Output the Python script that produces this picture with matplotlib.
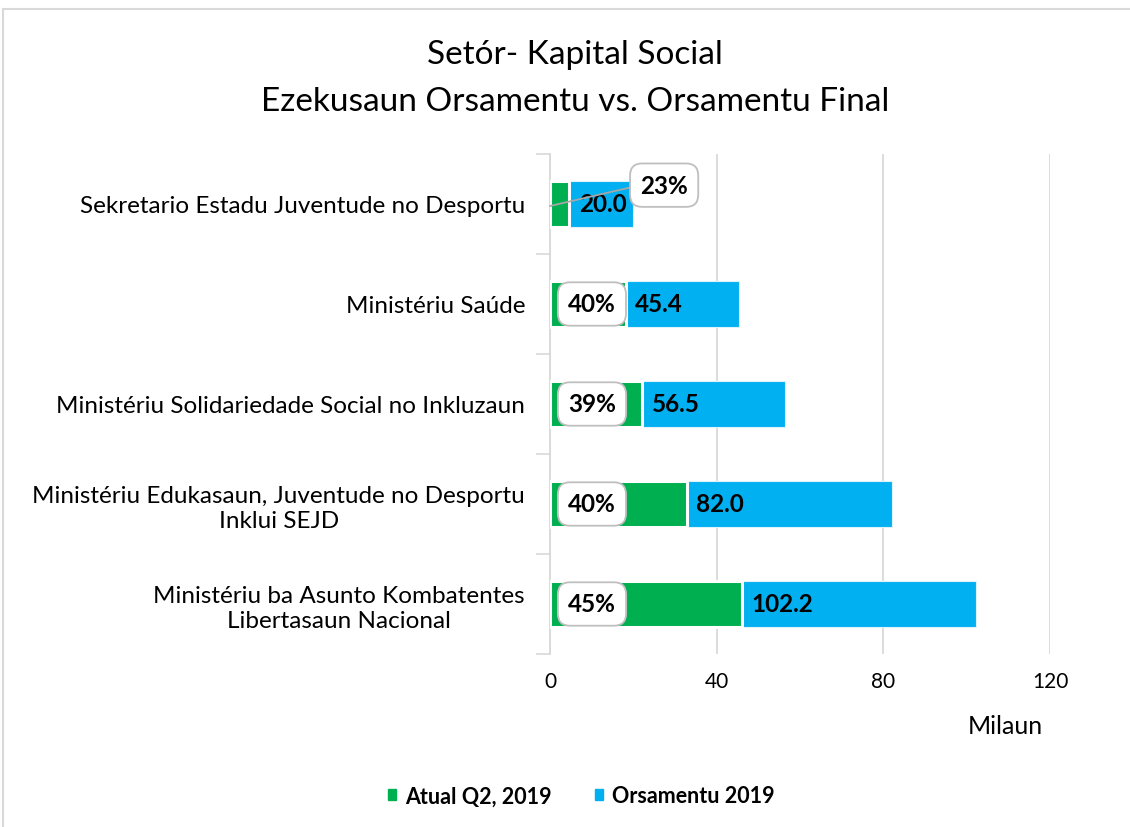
import matplotlib.pyplot as plt
import matplotlib.patches as mpatches
import numpy as np

plt.rcParams['font.family'] = ['Lato', 'DejaVu Sans']

categories = [
    "Sekretario Estadu Juventude no Desportu",
    "Ministériu Saúde",
    "Ministériu Solidariedade Social no Inkluzaun",
    "Ministériu Edukasaun, Juventude no Desportu\nInklui SEJD",
    "Ministériu ba Asunto Kombatentes\nLibertasaun Nacional",
]
orsamentu = [20.0, 45.4, 56.5, 82.0, 102.2]
pct = [23, 40, 39, 40, 45]
atual = [o * p / 100 for o, p in zip(orsamentu, pct)]

green = "#00B050"
blue = "#00B0F0"
grid_c = "#D9D9D9"

W, H = 1130, 828
fig = plt.figure(figsize=(W / 100, H / 100), dpi=100)
ax = fig.add_axes([550 / W, 1 - 655 / H, 500 / W, 500 / H])

y = np.arange(len(categories))[::-1]  # first category at the top

ax.barh(y, orsamentu, height=0.46, color=blue, edgecolor="#DDF3FC", linewidth=0.8, zorder=2)
ax.barh(y, atual, height=0.46, color=green, edgecolor="white", linewidth=2.2, zorder=3)

ax.set_xlim(0, 120)
ax.set_ylim(-0.5, len(categories) - 0.5)
ax.set_xticks([0, 40, 80, 120])
ax.tick_params(axis="x", length=0, labelsize=15, pad=12)
ax.set_yticks(y)
ax.set_yticklabels(categories, fontsize=17.5, multialignment="center", linespacing=1.25)
ax.tick_params(axis="y", length=0, pad=18)
ax.set_yticks(np.arange(-0.5, len(categories), 1), minor=True)
ax.tick_params(axis="y", which="minor", length=10, color=grid_c, width=1.2)
ax.grid(axis="x", color=grid_c, linewidth=1.3, zorder=0)
for s in ["top", "right", "bottom"]:
    ax.spines[s].set_visible(False)
ax.spines["left"].set_color(grid_c)
ax.spines["left"].set_linewidth(1.3)

# data labels
for yi, a, o, p in zip(y, atual, orsamentu, pct):
    ax.annotate(f"{o:.1f}", xy=(a, yi), xytext=(7, 0), textcoords="offset points",
                ha="left", va="center", fontsize=17.5, fontweight="bold", zorder=5,
                bbox=dict(boxstyle="square,pad=0.15", fc=blue, ec="none"))
    box = dict(boxstyle="round,pad=0.42,rounding_size=0.5", fc="white", ec="#BFBFBF", lw=1.3)
    if p == 23:
        ax.annotate(f"{p}%", xy=(0, yi - 0.02), xytext=(65, 15), textcoords="offset points",
                    ha="left", va="center", fontsize=17.5, fontweight="bold", zorder=6, bbox=box,
                    arrowprops=dict(arrowstyle="-", color="#A6A6A6", lw=1.3,
                                    shrinkA=0, shrinkB=0, relpos=(0, 0.5)))
    else:
        ax.annotate(f"{p}%", xy=(0, yi), xytext=(13, 0), textcoords="offset points",
                    ha="left", va="center", fontsize=17.5, fontweight="bold", zorder=6, bbox=box)

ax.text(1005 / W, 1 - 727 / H, "Milaun", transform=fig.transFigure,
        ha="center", va="center", fontsize=18)

fig.text(575 / W, 1 - 55 / H, "Setór- Kapital Social", ha="center", va="center", fontsize=24)
fig.text(575 / W, 1 - 102 / H, "Ezekusaun Orsamentu vs. Orsamentu Final",
         ha="center", va="center", fontsize=24)

handles = [mpatches.Patch(color=green, label="Atual Q2, 2019"),
           mpatches.Patch(color=blue, label="Orsamentu 2019")]
fig.legend(handles=handles, loc="center", bbox_to_anchor=(581 / W, 1 - 797 / H), ncol=2,
           frameon=False, handlelength=0.4, handleheight=0.4, handletextpad=0.4,
           columnspacing=2.0, prop=dict(size=15.5, weight="bold"))

# chart border
fig.patches.append(mpatches.Rectangle((3 / W, -0.1), 1.2, 0.1 + (H - 10) / H,
                                      transform=fig.transFigure, fill=False,
                                      ec=grid_c, lw=1.5))

fig.savefig("out.png", dpi=100)
